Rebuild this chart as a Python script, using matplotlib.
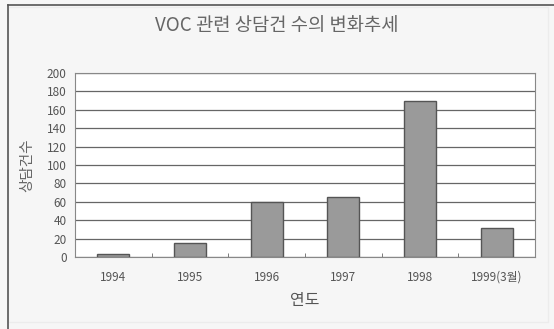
import matplotlib.pyplot as plt
import matplotlib.patches as patches
import numpy as np

plt.rcParams['font.family'] = ['Noto Sans CJK KR', 'DejaVu Sans']

# yearly counts
years = ['1994', '1995', '1996', '1997', '1998', '1999(3월)']
counts = [3, 15, 60, 65, 170, 31]

fig = plt.figure(figsize=(5.54, 3.29), dpi=100)
fig.patch.set_facecolor('#f6f6f6')

# outer frame (dark left/top edges)
fig.add_artist(patches.Rectangle((8 / 554, 0.02), 0.975, 0.96, transform=fig.transFigure,
                                 fill=False, edgecolor='#ececec', lw=1))
fig.add_artist(plt.Line2D([8 / 554, 8 / 554], [0, 1 - 5 / 329], transform=fig.transFigure,
                          color='#555555', lw=1.2))
fig.add_artist(plt.Line2D([8 / 554, 1], [1 - 5 / 329, 1 - 5 / 329], transform=fig.transFigure,
                          color='#555555', lw=1.2))

ax = fig.add_axes([0.1354, 0.2188, 0.8303, 0.5593])
ax.set_facecolor('white')

x = np.arange(len(years))
ax.bar(x, counts, width=0.42, color='#9a9a9a', edgecolor='#555555', linewidth=1, zorder=3)

ax.set_xlim(-0.5, len(years) - 0.5)
ax.set_ylim(0, 200)
ax.set_yticks(range(0, 201, 20))
ax.yaxis.grid(True, color='#666666', lw=0.9, zorder=0)

ax.set_xticks(x)
ax.set_xticklabels(years, fontsize=8.5, color='#555555')
ax.set_xticks(np.arange(0.5, len(years) - 1, 1), minor=True)
ax.tick_params(axis='x', which='major', length=0, pad=10)
ax.tick_params(axis='x', which='minor', length=3, direction='in', color='#666666')
ax.tick_params(axis='y', length=0, labelsize=8.5, labelcolor='#555555', pad=6)

for s in ax.spines.values():
    s.set_color('#888888')
    s.set_linewidth(0.8)

ax.set_ylabel('상담건수', fontsize=10.5, color='#666666', labelpad=9)
ax.set_xlabel('연도', fontsize=11.5, color='#555555', labelpad=6)
fig.text(0.5, 1 - 25 / 329, 'VOC 관련 상담건 수의 변화추세', ha='center', va='center',
         fontsize=13.5, color='#666666')

fig.savefig('out.png', dpi=100, facecolor=fig.get_facecolor())
